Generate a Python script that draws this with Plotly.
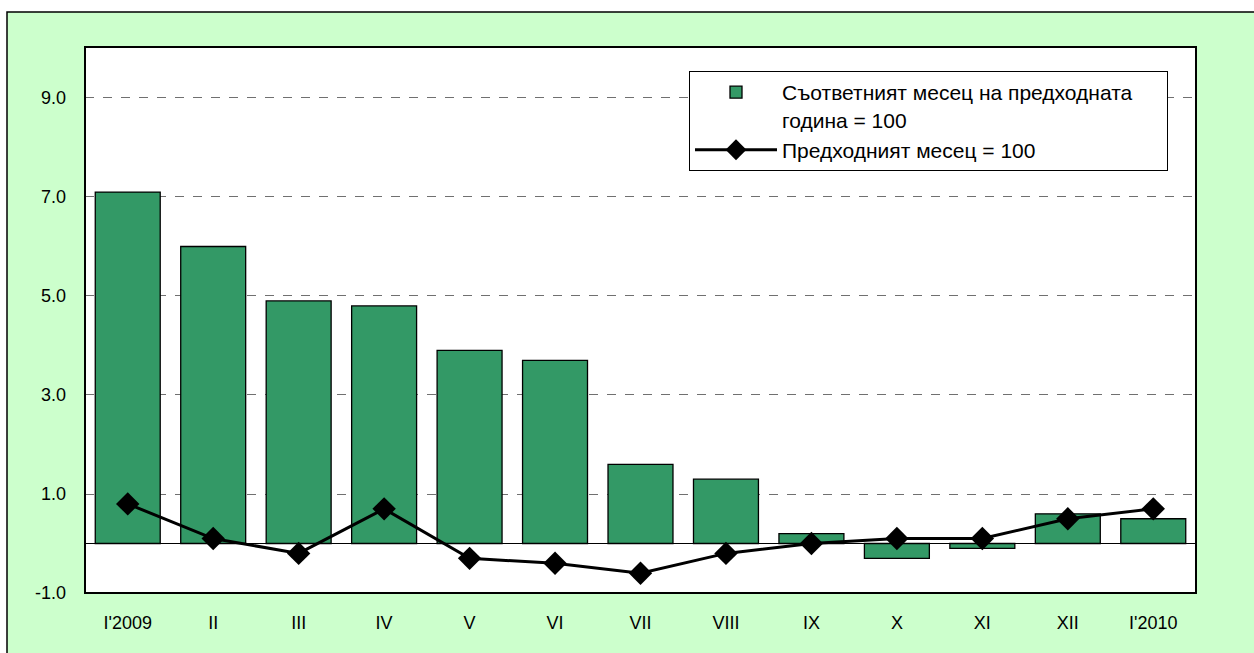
import plotly.graph_objects as go

categories = ["I'2009", "II", "III", "IV", "V", "VI", "VII", "VIII", "IX", "X", "XI", "XII", "I'2010"]
yoy_values = [7.1, 6.0, 4.9, 4.8, 3.9, 3.7, 1.6, 1.3, 0.2, -0.3, -0.1, 0.6, 0.5]
mom_values = [0.8, 0.1, -0.2, 0.7, -0.3, -0.4, -0.6, -0.2, 0.0, 0.1, 0.1, 0.5, 0.7]
yoy_name = "Съответният месец на предходната\u00a0\u00a0\u00a0\u00a0\u00a0<br>година = 100"
mom_name = "Предходният месец = 100"
tick_vals = [-1, 1, 3, 5, 7, 9]
tick_text = ["-1.0", "1.0", "3.0", "5.0", "7.0", "9.0"]

W, H = 1254, 653
L, R, T, B = 85, 1196, 47, 593

fig = go.Figure()
fig.add_trace(go.Bar(
    x=categories, y=yoy_values, name=yoy_name,
    marker=dict(color="#339966", line=dict(color="black", width=1.3)),
))
fig.add_trace(go.Scatter(
    x=categories, y=mom_values, name=mom_name, mode="lines+markers",
    line=dict(color="black", width=3),
    marker=dict(symbol="diamond", size=18, color="black"),
))

pw = R - L
ph = B - T
def px(x):
    return (x - L) / pw
def py(y):
    return (B - y) / ph

fig.update_layout(
    width=W, height=H,
    margin=dict(l=L, r=W - R, t=T, b=H - B, pad=0),
    paper_bgcolor="white",
    plot_bgcolor="white",
    font=dict(family="Liberation Sans, Arial", size=18, color="black"),
    bargap=0.24,
    showlegend=True,
    legend=dict(
        x=px(689), y=py(71), xanchor="left", yanchor="top",
        bgcolor="white", bordercolor="black", borderwidth=1,
        font=dict(size=21), tracegroupgap=0, valign="top",
        itemwidth=82,
    ),
    xaxis=dict(
        range=[-0.5, len(categories) - 0.5],
        showline=False, showgrid=False, ticks="", zeroline=False,
        tickfont=dict(size=18), ticklabelstandoff=17,
    ),
    yaxis=dict(
        range=[-1, 10.03], tickvals=tick_vals, ticktext=tick_text,
        showgrid=True, gridcolor="#707070", griddash="dash", gridwidth=1,
        zeroline=True, zerolinecolor="black", zerolinewidth=1.3,
        showline=False, ticks="", tickfont=dict(size=18),
        ticklabelstandoff=18,
    ),
    shapes=[
        dict(type="rect", xref="paper", yref="paper", layer="below",
             x0=px(7), x1=px(1300), y0=py(700), y1=py(12),
             fillcolor="#CCFFCC", line=dict(color="black", width=1.5)),
        dict(type="rect", xref="paper", yref="paper", layer="below",
             x0=0, x1=1, y0=0, y1=1,
             fillcolor="white", line=dict(width=0)),
        dict(type="rect", xref="paper", yref="paper", layer="above",
             x0=0, x1=1, y0=0, y1=1,
             fillcolor="rgba(0,0,0,0)", line=dict(color="black", width=2)),
    ],
)

fig.write_html(
    "out.html",
    config={"displayModeBar": False},
    post_script="document.body.style.margin='0';document.body.style.padding='0';document.body.style.overflow='hidden';",
)
